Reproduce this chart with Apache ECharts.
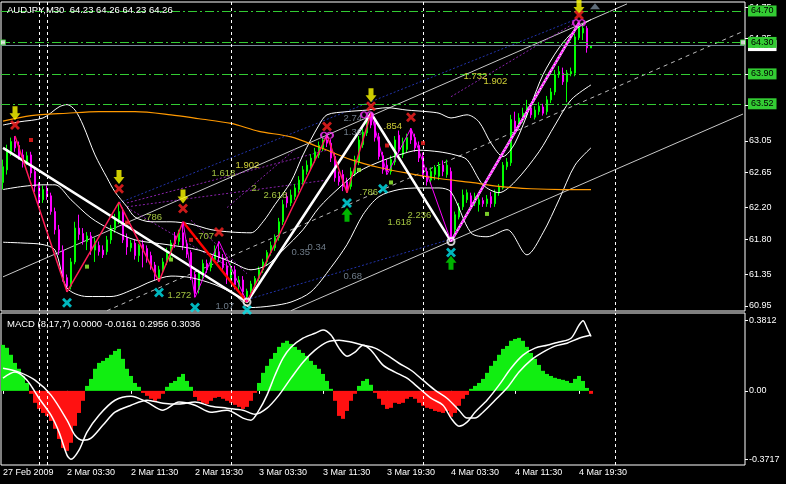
<!DOCTYPE html>
<html><head><meta charset="utf-8">
<script src="https://cdn.jsdelivr.net/npm/echarts@6/dist/echarts.min.js"></script>
<style>html,body{margin:0;padding:0;background:#000;}#c{width:786px;height:484px;}</style>
</head><body><div id="c"></div>
<script>
const FONT = 'Liberation Sans, Arial, sans-serif';
const N_SLOTS = 186;
const timeTickIdx = [0,16,32,48,64,80,96,112,128,144];
const timeTickLabels = ['27 Feb 2009','2 Mar 03:30','2 Mar 11:30','2 Mar 19:30','3 Mar 03:30','3 Mar 11:30','3 Mar 19:30','4 Mar 03:30','4 Mar 11:30','4 Mar 19:30'];
const priceTicks = [60.95,61.35,61.80,62.20,62.65,63.05,63.50,63.90,64.35,64.75];
const macdTicks = [-0.3717,0,0.3812];
const levelLines = [63.52,63.90,64.30,64.70];
const bidPrice = 64.26;
const separatorIdx = [9,11,57,105,153];

const openP = [
62.52,62.68,62.91,63.04,62.99,62.87,62.78,62.87,62.66,62.48,
62.30,62.43,62.35,62.15,61.92,61.66,61.31,61.20,61.51,61.94,
61.87,61.77,61.84,61.66,61.72,61.66,61.64,61.79,61.92,62.05,
62.15,61.82,61.69,61.75,61.59,61.73,61.68,61.59,61.47,61.31,
61.41,61.51,61.63,61.84,61.77,61.88,61.74,61.63,61.35,61.16,
61.35,61.49,61.44,61.54,61.64,61.56,61.46,61.31,61.41,61.20,
61.28,61.07,61.14,61.22,61.30,61.41,61.51,61.63,61.69,61.82,
62.02,62.34,62.26,62.34,62.43,62.53,62.66,62.72,62.81,62.87,
62.96,63.06,63.02,62.85,62.60,62.62,62.53,62.47,62.64,62.78,
63.00,63.15,63.34,63.27,63.10,62.86,62.74,62.66,62.78,63.12,
62.87,62.94,63.19,63.09,62.99,62.85,62.66,62.55,62.62,62.60,
62.74,62.62,62.66,61.92,62.08,62.21,62.30,62.35,62.26,62.24,
62.29,62.25,62.34,62.25,62.39,62.45,62.72,62.77,63.30,63.25,
63.32,63.38,63.47,63.35,63.42,63.48,63.42,63.57,63.67,63.89,
63.91,63.80,63.90,63.91,64.36,64.42,64.48,64.23];
const closeP = [
62.72,62.94,63.04,62.96,62.85,62.77,62.86,62.64,62.47,62.30,
62.43,62.34,62.15,61.92,61.66,61.31,61.20,61.51,61.94,61.86,
61.78,61.84,61.66,61.77,61.64,61.60,61.79,61.94,62.07,62.15,
61.79,61.70,61.75,61.59,61.72,61.66,61.56,61.46,61.33,61.41,
61.51,61.64,61.75,61.74,61.88,61.72,61.61,61.33,61.11,61.37,
61.49,61.41,61.56,61.66,61.56,61.44,61.30,61.44,61.22,61.28,
61.13,61.14,61.23,61.30,61.41,61.51,61.63,61.72,61.82,62.02,
62.24,62.26,62.36,62.45,62.55,62.68,62.74,62.83,62.91,62.99,
63.06,63.02,62.83,62.58,62.53,62.47,62.43,62.66,62.81,63.06,
63.16,63.30,63.25,63.09,62.85,62.68,62.66,62.81,63.06,62.94,
63.04,63.09,63.06,62.96,62.83,62.62,62.53,62.66,62.71,62.73,
62.66,62.74,61.82,62.11,62.21,62.36,62.39,62.25,62.34,62.30,
62.25,62.31,62.25,62.39,62.47,62.74,62.78,63.32,63.21,63.34,
63.40,63.48,63.38,63.44,63.49,63.40,63.57,63.67,63.89,63.93,
63.80,63.91,63.93,64.37,64.50,64.48,64.23,64.26];
const lowP = [
62.43,62.62,62.86,62.91,62.81,62.71,62.74,62.58,62.40,62.24,
62.26,62.30,62.11,61.86,61.60,61.26,61.13,61.16,61.48,61.79,
61.73,61.66,61.60,61.51,61.59,61.56,61.60,61.74,61.88,61.99,
61.75,61.60,61.64,61.54,61.51,61.44,61.50,61.41,61.28,61.26,
61.37,61.47,61.56,61.69,61.72,61.66,61.56,61.28,61.06,61.11,
61.28,61.37,61.39,61.50,61.51,61.39,61.23,61.26,61.16,61.13,
61.07,61.00,61.11,61.18,61.26,61.37,61.47,61.59,61.65,61.78,
61.98,62.20,62.22,62.30,62.39,62.49,62.62,62.68,62.77,62.83,
62.92,62.97,62.78,62.53,62.48,62.41,62.39,62.43,62.60,62.74,
62.96,63.11,63.21,63.04,62.81,62.63,62.62,62.62,62.74,62.90,
62.83,62.90,63.01,62.91,62.78,62.58,62.48,62.50,62.55,62.55,
62.60,62.58,61.77,61.84,62.05,62.17,62.26,62.21,62.22,62.15,
62.21,62.21,62.20,62.21,62.35,62.43,62.68,62.73,63.16,63.21,
63.28,63.34,63.34,63.32,63.38,63.37,63.38,63.53,63.63,63.85,
63.76,63.54,63.87,63.87,64.33,64.33,64.17,64.23];
const highP = [
62.81,63.00,63.09,63.11,63.04,62.94,62.91,62.91,62.71,62.52,
62.48,62.48,62.39,62.20,61.98,61.72,61.35,61.56,62.02,62.11,
61.94,61.89,61.89,61.82,61.77,61.72,61.84,61.98,62.12,62.27,
62.20,61.87,61.79,61.79,61.74,61.79,61.72,61.64,61.51,61.46,
61.56,61.69,61.79,61.89,61.92,62.02,61.79,61.66,61.39,61.41,
61.54,61.54,61.61,61.72,61.77,61.61,61.51,61.49,61.46,61.33,
61.33,61.17,61.27,61.33,61.45,61.55,61.66,61.77,61.86,62.07,
62.30,62.39,62.43,62.50,62.60,62.73,62.80,62.88,62.96,63.04,
63.10,63.12,63.07,62.90,62.66,62.68,62.58,62.71,62.86,63.11,
63.21,63.35,63.40,63.32,63.15,62.91,62.81,62.86,63.11,63.18,
63.09,63.14,63.21,63.14,63.04,62.90,62.71,62.71,62.74,62.78,
62.80,62.81,62.71,62.15,62.26,62.43,62.43,62.39,62.39,62.35,
62.33,62.36,62.40,62.43,62.50,62.78,62.83,63.38,63.42,63.40,
63.47,63.57,63.52,63.49,63.54,63.52,63.62,63.72,63.95,64.00,
63.98,63.95,63.98,64.41,64.56,64.52,64.51,64.26];

// Bollinger bands & moving average: [bar, price]
const bbUpper = [[0,63.25],[4,63.29],[10,63.34],[14,63.48],[16,63.51],[18,63.44],[20,63.25],[23,62.87],[26,62.58],[28,62.40],[31,62.21],[33,62.08],[37,62.02],[42,62.02],[47,61.99],[52,61.92],[57,61.89],[62,61.88],[65,62.02],[68,62.24],[72,62.53],[75,62.87],[79,63.25],[81,63.38],[86,63.42],[91,63.44],[96,63.47],[101,63.44],[106,63.42],[109,63.40],[112,63.34],[116,63.38],[119,63.29],[122,63.02],[125,62.85],[128,63.02],[132,63.51],[135,63.89],[139,64.23],[143,64.46],[147,64.59]];
const bbMiddle = [[0,62.43],[5,62.47],[10,62.49],[13,62.49],[17,62.30],[22,62.07],[27,61.92],[33,61.79],[41,61.73],[49,61.66],[57,61.51],[62,61.41],[66,61.47],[70,61.66],[75,61.92],[79,62.20],[84,62.45],[89,62.66],[94,62.78],[99,62.87],[104,62.93],[109,62.91],[113,62.87],[116,62.81],[120,62.49],[124,62.39],[128,62.53],[134,62.91],[138,63.25],[142,63.57],[147,63.76]];
const bbLower = [[0,61.76],[5,61.75],[10,61.73],[13,61.66],[16,61.18],[21,61.07],[27,61.07],[33,61.17],[37,61.26],[42,61.33],[47,61.31],[53,61.22],[58,61.09],[62,60.93],[67,60.95],[72,61.00],[77,61.13],[82,61.44],[86,61.73],[90,62.11],[94,62.34],[99,62.43],[104,62.45],[109,62.45],[112,62.40],[117,61.88],[121,61.83],[126,61.92],[131,61.60],[135,61.88],[139,62.30],[143,62.74],[147,62.96]];
const maOrange = [[0,63.30],[7,63.37],[16,63.40],[24,63.42],[33,63.42],[42,63.38],[49,63.33],[57,63.27],[64,63.17],[72,63.10],[79,62.97],[87,62.81],[94,62.71],[102,62.63],[109,62.57],[117,62.52],[124,62.47],[132,62.44],[140,62.43],[147,62.43]];

// zigzag / pattern lines
const zzWhite = [[0,62.96],[61,61.00],[92,63.40],[112,61.77],[144,64.55]];
const zzCrimsonA = [[3,63.11],[16,61.13],[29,62.27],[39,61.26],[45,62.02]];
const zzRed = [[45,62.02],[61,61.00]];
const zzCrimsonB = [[61,61.00],[81,63.12],[86,62.39],[92,63.40]];
const zzMagentaA = [[45,62.02],[48,61.06],[54,61.77],[61,61.00]];
const zzMagentaB = [[92,63.40],[96,62.62],[102,63.21],[112,61.77]];
const zzMagentaC = [[112,61.77],[144,64.55]];
const chanUpper = [[0,61.32],[156,64.79]];
const chanLower = [[72,60.89],[185,63.39]];
const chanMid = [[26,60.89],[185,64.44]];
const blueLines = [[[29,62.26],[144,64.61]],[[61,61.03],[112,61.80]]];
const purpleLines = [[[31,62.26],[81,62.93]],[[31,62.21],[81,62.55]],[[56,62.20],[73,62.94]],[[47,62.04],[61,61.36]],[[112,63.61],[143,64.55]],[[31,62.20],[58,61.40]]];

// markers
const yellowArrows = [[3,63.40],[29,62.59],[45,62.34],[92,63.63],[144,64.75]];
const greenArrows = [[86,62.11],[112,61.50]];
const redCrosses = [[3,63.25],[29,62.44],[45,62.19],[54,61.89],[81,63.23],[92,63.49],[102,63.35],[144,64.65]];
const cyanCrosses = [[16,60.99],[39,61.12],[48,60.93],[61,60.90],[86,62.26],[95,62.44],[112,61.63]];
const redSquares = [[7,63.06],[31,62.01],[47,61.79],[96,62.99],[105,63.02]];
const limeSquares = [[21,61.45],[42,61.54],[89,62.68],[97,62.52],[121,62.12]];
const magentaRings = [[81,63.12],[91,63.38],[144,64.55]];
const whiteRings = [[61,61.00],[112,61.77]];

// fibonacci texts: [bar, price, text]
const fibGreen = [[52,62.63,'1.618'],[62,62.44,'2.'],[35,62.08,'.786'],[48,61.84,'.707'],[41,61.09,'1.272'],[65,62.36,'2.618'],[89,62.39,'.786'],[96,62.01,'1.618'],[101,62.10,'2.236']];
const fibYellow = [[58,62.74,'1.902'],[95,63.23,'.854'],[115,63.87,'1.732'],[120,63.80,'1.902']];
const fibGrey = [[85,63.34,'2.74'],[85,63.16,'1.36'],[53,60.94,'1.07'],[76,61.70,'0.34'],[72,61.63,'0.35'],[85,61.32,'0.68']];

// MACD
const macdHist = [
0.250,0.234,0.196,0.152,0.120,0.081,0.043,-0.016,-0.065,-0.098,
-0.120,-0.136,-0.163,-0.206,-0.261,-0.310,-0.326,-0.282,-0.190,-0.120,
-0.054,0.027,0.065,0.120,0.152,0.163,0.179,0.196,0.217,0.228,
0.174,0.120,0.081,0.043,0.022,-0.011,-0.027,-0.043,-0.054,-0.043,
-0.016,0.022,0.043,0.054,0.076,0.092,0.054,0.022,-0.033,-0.054,
-0.065,-0.071,-0.054,-0.038,-0.033,-0.043,-0.054,-0.065,-0.076,-0.087,
-0.098,-0.087,-0.054,-0.011,0.043,0.098,0.136,0.174,0.206,0.239,
0.261,0.272,0.255,0.239,0.223,0.206,0.190,0.163,0.141,0.120,
0.092,0.054,0.011,-0.054,-0.136,-0.152,-0.109,-0.054,-0.016,0.027,
0.054,0.065,0.033,-0.011,-0.043,-0.076,-0.098,-0.092,-0.065,-0.071,
-0.065,-0.043,-0.033,-0.043,-0.065,-0.081,-0.092,-0.098,-0.109,-0.114,
-0.120,-0.109,-0.141,-0.120,-0.081,-0.043,-0.022,0.011,0.027,0.043,
0.065,0.098,0.136,0.163,0.196,0.228,0.244,0.272,0.282,0.288,
0.272,0.239,0.206,0.174,0.141,0.109,0.092,0.081,0.071,0.065,
0.060,0.054,0.043,0.065,0.081,0.054,0.016,-0.0161];
const macdLineA = [[0,0.069],[3,0.102],[6,0.058],[9,-0.040],[12,-0.132],[14,-0.224],[16,-0.349],[17,-0.3717],[19,-0.322],[21,-0.224],[24,-0.132],[28,-0.051],[32,-0.029],[36,-0.061],[40,-0.105],[44,-0.061],[48,-0.078],[52,-0.116],[56,-0.105],[60,-0.148],[62,-0.159],[64,-0.105],[66,-0.023],[68,0.085],[70,0.178],[72,0.237],[75,0.286],[78,0.313],[80,0.330],[82,0.303],[84,0.232],[86,0.188],[88,0.210],[90,0.248],[92,0.221],[95,0.140],[98,0.102],[101,0.069],[104,0.015],[107,-0.040],[110,-0.078],[112,-0.148],[114,-0.192],[116,-0.170],[118,-0.116],[121,-0.051],[124,0.031],[127,0.123],[130,0.194],[133,0.232],[136,0.248],[139,0.265],[142,0.286],[144,0.357],[145,0.3812],[146,0.341],[147,0.2956]];
const macdLineB = [[0,0.123],[4,0.102],[8,0.058],[12,-0.023],[16,-0.159],[18,-0.241],[20,-0.268],[22,-0.257],[25,-0.186],[28,-0.116],[32,-0.078],[36,-0.051],[40,-0.067],[44,-0.072],[48,-0.061],[52,-0.083],[56,-0.094],[60,-0.105],[63,-0.127],[66,-0.094],[69,-0.023],[72,0.069],[75,0.156],[78,0.221],[81,0.265],[84,0.275],[87,0.265],[90,0.248],[93,0.232],[96,0.194],[99,0.150],[102,0.112],[105,0.058],[108,0.004],[111,-0.040],[114,-0.105],[116,-0.148],[118,-0.148],[120,-0.116],[123,-0.051],[126,0.015],[129,0.102],[132,0.167],[135,0.210],[138,0.243],[141,0.259],[144,0.286],[147,0.3036]];

const cats = Array.from({length: N_SLOTS}, (_, i) => 'b' + i);
const candles = openP.map((o, i) => [o, closeP[i], lowP[i], highP[i]]);

const chart = echarts.init(document.getElementById('c'), null, {renderer: 'canvas'});

function lineS(data, color, width, type, z, smooth) {
  return {type: 'line', xAxisIndex: 0, yAxisIndex: 0, data: data, symbol: 'none', silent: true, smooth: smooth || false,
    lineStyle: {color: color, width: width, type: type || 'solid'}, z: z || 2, animation: false};
}
function scatterS(data, symbol, size, item, z) {
  return {type: 'scatter', xAxisIndex: 0, yAxisIndex: 0, data: data, symbol: symbol, symbolSize: size, itemStyle: item, z: z || 6, silent: true, clip: true};
}
function textS(list, color) {
  return {type: 'scatter', xAxisIndex: 0, yAxisIndex: 0, symbolSize: 1, itemStyle: {color: 'rgba(0,0,0,0)'}, z: 7, silent: true,
    data: list.map(d => ({value: [d[0], d[1]], name: d[2]})),
    label: {show: true, position: 'right', distance: 0, formatter: p => p.name, color: color, fontSize: 9.5, fontFamily: FONT}};
}

const labelBox = (bg) => ({show: true, position: 'end', distance: 3, backgroundColor: bg, color: '#000', fontSize: 9, fontFamily: FONT, padding: [1, 3, 0, 3], lineHeight: 10, formatter: p => p.value.toFixed(2)});

const series = [];
series.push(lineS(chanUpper, '#C8C8C8', 1, 'solid', 1));
series.push(lineS(chanLower, '#C8C8C8', 1, 'solid', 1));
series.push(lineS(chanMid, '#BBBBBB', 1, [4, 4], 1));
blueLines.forEach(l => series.push(lineS(l, '#2233AA', 1, [2, 2], 1)));
purpleLines.forEach(l => series.push(lineS(l, '#8822AA', 1, [2, 2], 1)));
series.push({
  type: 'candlestick', xAxisIndex: 0, yAxisIndex: 0, data: candles, barWidth: 2, z: 3, silent: true,
  itemStyle: {color: '#00FF00', color0: '#FF00FF', borderColor: '#00FF00', borderColor0: '#FF00FF', borderWidth: 1},
  markLine: {
    silent: true, symbol: ['none', 'none'], animation: false,
    data: [
      {yAxis: bidPrice, lineStyle: {color: '#778899', width: 1, type: 'solid'}, label: labelBox('#FFFFFF')}
    ].concat(levelLines.map(v => ({yAxis: v, lineStyle: {color: '#33CC33', width: 1, type: [9, 3, 2, 3]}, label: labelBox('#33CC33')})))
  }
});
series.push(lineS(bbUpper, '#FFFFFF', 1, 'solid', 4, 0.3));
series.push(lineS(bbMiddle, '#FFFFFF', 1, 'solid', 4, 0.3));
series.push(lineS(bbLower, '#FFFFFF', 1, 'solid', 4, 0.3));
series.push(lineS(maOrange, '#FF9900', 1.2, 'solid', 4, 0.3));
series.push(lineS(zzWhite, '#FFFFFF', 2.5, 'solid', 5));
series.push(lineS(zzCrimsonA, '#FF1A55', 1.5, 'solid', 5));
series.push(lineS(zzRed, '#FF0000', 2.5, 'solid', 5));
series.push(lineS(zzCrimsonB, '#FF1A55', 1.5, 'solid', 5));
series.push(lineS(zzMagentaA, '#FF00FF', 1, 'solid', 5));
series.push(lineS(zzMagentaB, '#FF00FF', 1, 'solid', 5));
series.push(lineS(zzMagentaC, '#FF00FF', 2, 'solid', 5));
series.push(lineS(zzMagentaC, '#FFFFFF', 1, [2, 2], 5));
series.push({type: 'line', xAxisIndex: 0, yAxisIndex: 0, data: [], silent: true,
  markLine: {silent: true, symbol: ['none', 'none'], label: {show: false}, lineStyle: {color: '#FFFFFF', width: 1, type: [3, 3]}, data: separatorIdx.map(i => ({xAxis: i}))}});
series.push(scatterS(yellowArrows, 'path://M3,0L8,0L8,7L11,7L5.5,14L0,7L3,7Z', [11, 14], {color: '#FFFF00'}));
series.push(scatterS(greenArrows, 'path://M5.5,0L11,7L8,7L8,14L3,14L3,7L0,7Z', [11, 14], {color: '#00E000'}));
series.push(scatterS(redCrosses, 'path://M0,2L2,0L5,3L8,0L10,2L7,5L10,8L8,10L5,7L2,10L0,8L3,5Z', 10, {color: '#FF2020'}));
series.push(scatterS(cyanCrosses, 'path://M0,2L2,0L5,3L8,0L10,2L7,5L10,8L8,10L5,7L2,10L0,8L3,5Z', 10, {color: '#00E5EE'}));
series.push(scatterS(redSquares, 'rect', 4, {color: '#FF2020'}));
series.push(scatterS(limeSquares, 'rect', 4, {color: '#99FF33'}));
series.push(scatterS(magentaRings, 'path://M0,3a3,3 0 1,0 6,0a3,3 0 1,0 -6,0M6,3a3,3 0 1,0 6,0a3,3 0 1,0 -6,0', [12, 6], {color: 'rgba(0,0,0,0)', borderColor: '#FF33FF', borderWidth: 1.5}));
series.push(scatterS(whiteRings, 'circle', 7, {color: 'rgba(0,0,0,0)', borderColor: '#FFFFFF', borderWidth: 2}));
series.push(scatterS([[148, 64.76]], 'triangle', [10, 6], {color: '#778899'}));
series.push(scatterS([[0, 64.30], [185, 64.30]], 'rect', 5, {color: '#FFFFFF', borderColor: '#33CC33', borderWidth: 1}));
series.push(textS(fibGreen, '#C8F050'));
series.push(textS(fibYellow, '#FFFF44'));
series.push(textS(fibGrey, '#8A9AAA'));

series.push({type: 'bar', xAxisIndex: 1, yAxisIndex: 1, data: macdHist, barWidth: 4, silent: true,
  itemStyle: {color: p => p.value >= 0 ? '#11EE11' : '#FF1111'},
  markLine: {silent: true, symbol: ['none', 'none'], label: {show: false}, lineStyle: {color: '#FFFFFF', width: 1, type: [3, 3]}, data: separatorIdx.map(i => ({xAxis: i}))}});
series.push({type: 'line', xAxisIndex: 1, yAxisIndex: 1, data: macdLineA, symbol: 'none', smooth: 0.3, silent: true, lineStyle: {color: '#FFFFFF', width: 1.5}, z: 4});
series.push({type: 'line', xAxisIndex: 1, yAxisIndex: 1, data: macdLineB, symbol: 'none', smooth: 0.3, silent: true, lineStyle: {color: '#FFFFFF', width: 1.5}, z: 4});

const axisText = {color: '#FFFFFF', fontSize: 9, fontFamily: FONT};
const titleText = {color: '#FFFFFF', fontSize: 9.5, fontFamily: FONT, fontWeight: 'normal'};
const showTick = (idx) => timeTickIdx.indexOf(idx) >= 0;

chart.setOption({
  backgroundColor: '#000000',
  animation: false,
  title: [
    {text: 'AUDJPY,M30  64.23 64.26 64.23 64.26', left: 7, top: 5, padding: 0, textStyle: titleText},
    {text: 'MACD (8,17,7) 0.0000 -0.0161 0.2956 0.3036', left: 7, top: 319, padding: 0, textStyle: titleText}
  ],
  grid: [
    {left: 1, top: 2, width: 744, height: 309, show: true, borderColor: '#FFFFFF', borderWidth: 1, backgroundColor: '#000'},
    {left: 1, top: 313, width: 744, height: 152, show: true, borderColor: '#FFFFFF', borderWidth: 1, backgroundColor: '#000'}
  ],
  xAxis: [
    {type: 'category', gridIndex: 0, data: cats, boundaryGap: true, axisLine: {show: false}, axisTick: {show: false}, axisLabel: {show: false}, splitLine: {show: false}},
    {type: 'category', gridIndex: 1, data: cats, boundaryGap: true, axisLine: {show: false},
      axisTick: {show: true, interval: showTick, alignWithLabel: true, length: 3, lineStyle: {color: '#FFFFFF'}},
      axisLabel: Object.assign({show: true, interval: showTick, align: 'left', margin: 3, formatter: (v, idx) => timeTickLabels[timeTickIdx.indexOf(idx)] || ''}, axisText),
      splitLine: {show: false}}
  ],
  yAxis: [
    {type: 'value', gridIndex: 0, position: 'right', min: 60.886, max: 64.814, splitLine: {show: false}, axisLine: {show: false},
      axisTick: {show: true, customValues: priceTicks, length: 3, lineStyle: {color: '#FFFFFF'}},
      axisLabel: Object.assign({customValues: priceTicks, margin: 4, formatter: v => v.toFixed(2)}, axisText)},
    {type: 'value', gridIndex: 1, position: 'right', min: -0.4027, max: 0.423, splitLine: {show: false}, axisLine: {show: false},
      axisTick: {show: true, customValues: macdTicks, length: 3, lineStyle: {color: '#FFFFFF'}},
      axisLabel: Object.assign({customValues: macdTicks, margin: 4, formatter: v => v === 0 ? '0.00' : v.toFixed(4)}, axisText)}
  ],
  series: series
});
</script>
</body></html>
